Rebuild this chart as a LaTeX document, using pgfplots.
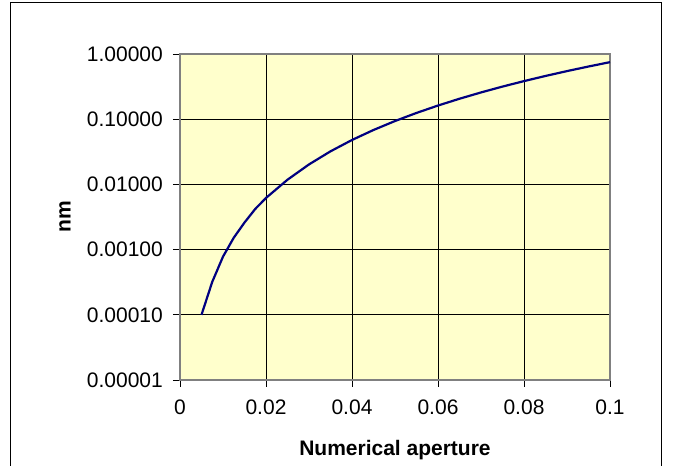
\documentclass[border=0pt]{standalone}
\usepackage{pgfplots}
\pgfplotsset{compat=1.18}
\usepackage{fontspec}
\setmainfont{Liberation Sans}
\definecolor{plotbg}{RGB}{255,255,204}
\definecolor{navyline}{RGB}{0,0,128}
\definecolor{axgray}{RGB}{128,128,128}
\begin{document}
\begin{tikzpicture}
\useasboundingbox (0pt,0pt) rectangle (673pt,466pt);
\draw[black, line width=1pt] (10pt,-5pt) -- (10pt,463pt) -- (661pt,463pt) -- (661pt,-5pt);
\begin{axis}[
  at={(180pt,86pt)}, anchor=south west,
  scale only axis, width=430pt, height=326pt,
  xmin=0, xmax=0.1, ymode=log, ymin=1e-5, ymax=1,
  axis background/.style={fill=plotbg},
  axis line style={axgray, line width=1.8pt},
  grid=major, major grid style={black, line width=0.8pt},
  tick align=outside, major tick length=7pt,
  tick style={black, line width=0.8pt},
  xtick pos=left, ytick pos=left,
  yminorticks=false,
  xtick={0,0.02,0.04,0.06,0.08,0.1},
  xticklabels={0,0.02,0.04,0.06,0.08,0.1},
  ytick={1e-5,1e-4,1e-3,1e-2,1e-1,1},
  yticklabels={0.00001,0.00010,0.00100,0.01000,0.10000,1.00000},
  tick label style={font=\fontsize{21}{24}\selectfont, inner sep=0pt},
  xticklabel style={anchor=north, yshift=-13pt},
  yticklabel style={anchor=east, xshift=-10pt},
  xlabel={Numerical aperture}, ylabel={nm},
  label style={font=\bfseries\fontsize{21}{24}\selectfont, inner sep=0pt},
  xlabel style={at={([yshift=-60pt]axis description cs:0.5,0)}, anchor=north},
  ylabel style={at={([xshift=-115pt]axis description cs:0,0.5)}, anchor=center},
]
\addplot[navyline, line width=2.2pt] coordinates {
(0.005,0.0001) (0.0075,0.00032) (0.010,0.00078) (0.0125,0.00152)
(0.015,0.0026) (0.0175,0.0042) (0.020,0.0062)
(0.025,0.0118) (0.030,0.02025) (0.035,0.03216) (0.040,0.0480)
(0.045,0.06834) (0.050,0.09375) (0.055,0.12478) (0.060,0.1620)
(0.065,0.20597) (0.070,0.25725) (0.075,0.31641) (0.080,0.3840)
(0.085,0.46059) (0.090,0.54675) (0.095,0.64303) (0.100,0.7500)
};
\end{axis}
\end{tikzpicture}
\end{document}
